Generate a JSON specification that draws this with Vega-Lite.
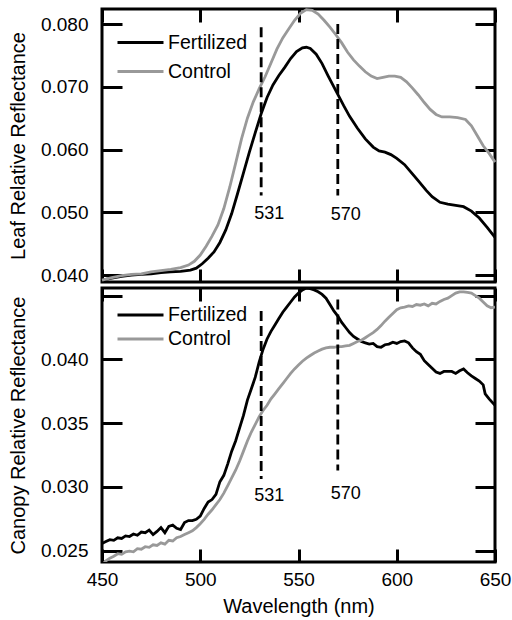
{
  "$schema": "https://vega.github.io/schema/vega-lite/v6.json",
  "padding": {"left": 6, "top": 2, "right": 2, "bottom": 0},
  "config": {
    "font": "Liberation Sans",
    "view": {"stroke": "#000000", "strokeWidth": 3},
    "axis": {"domain": false, "ticks": false, "grid": true, "gridColor": "#000000", "gridWidth": 3, "gridOpacity": 1, "labelFontSize": 19, "labelColor": "#000000", "labelFont": "Liberation Sans", "titleFont": "Liberation Sans", "titleFontSize": 20, "titleFontWeight": "normal", "titleColor": "#000000", "labelFlush": false, "labelOverlap": false},
    "legend": {"labelFont": "Liberation Sans"}
  },
  "datasets": {
    "leaf": [
      {"wl":450,"refl":0.0392,"series":"Fertilized"},{"wl":455,"refl":0.0395,"series":"Fertilized"},{"wl":460,"refl":0.0398,"series":"Fertilized"},{"wl":465,"refl":0.0400,"series":"Fertilized"},{"wl":470,"refl":0.0401,"series":"Fertilized"},{"wl":475,"refl":0.0402,"series":"Fertilized"},{"wl":480,"refl":0.0404,"series":"Fertilized"},{"wl":485,"refl":0.0405,"series":"Fertilized"},{"wl":490,"refl":0.0406,"series":"Fertilized"},{"wl":495,"refl":0.0408,"series":"Fertilized"},{"wl":498,"refl":0.0411,"series":"Fertilized"},{"wl":501,"refl":0.0418,"series":"Fertilized"},{"wl":504,"refl":0.0427,"series":"Fertilized"},{"wl":507,"refl":0.0437,"series":"Fertilized"},{"wl":510,"refl":0.0452,"series":"Fertilized"},{"wl":513,"refl":0.0472,"series":"Fertilized"},{"wl":516,"refl":0.0498,"series":"Fertilized"},{"wl":519,"refl":0.0530,"series":"Fertilized"},{"wl":522,"refl":0.0563,"series":"Fertilized"},{"wl":525,"refl":0.0596,"series":"Fertilized"},{"wl":528,"refl":0.0627,"series":"Fertilized"},{"wl":531,"refl":0.0657,"series":"Fertilized"},{"wl":534,"refl":0.0683,"series":"Fertilized"},{"wl":537,"refl":0.0703,"series":"Fertilized"},{"wl":540,"refl":0.0718,"series":"Fertilized"},{"wl":543,"refl":0.0731,"series":"Fertilized"},{"wl":546,"refl":0.0745,"series":"Fertilized"},{"wl":549,"refl":0.0756,"series":"Fertilized"},{"wl":552,"refl":0.0762,"series":"Fertilized"},{"wl":554,"refl":0.0763,"series":"Fertilized"},{"wl":556,"refl":0.0761,"series":"Fertilized"},{"wl":559,"refl":0.0752,"series":"Fertilized"},{"wl":562,"refl":0.0737,"series":"Fertilized"},{"wl":565,"refl":0.0718,"series":"Fertilized"},{"wl":568,"refl":0.0700,"series":"Fertilized"},{"wl":570,"refl":0.0688,"series":"Fertilized"},{"wl":573,"refl":0.0670,"series":"Fertilized"},{"wl":576,"refl":0.0653,"series":"Fertilized"},{"wl":580,"refl":0.0634,"series":"Fertilized"},{"wl":584,"refl":0.0617,"series":"Fertilized"},{"wl":588,"refl":0.0604,"series":"Fertilized"},{"wl":591,"refl":0.0598,"series":"Fertilized"},{"wl":594,"refl":0.0596,"series":"Fertilized"},{"wl":597,"refl":0.0592,"series":"Fertilized"},{"wl":600,"refl":0.0586,"series":"Fertilized"},{"wl":604,"refl":0.0576,"series":"Fertilized"},{"wl":607,"refl":0.0565,"series":"Fertilized"},{"wl":611,"refl":0.0550,"series":"Fertilized"},{"wl":615,"refl":0.0535,"series":"Fertilized"},{"wl":618,"refl":0.0525,"series":"Fertilized"},{"wl":622,"refl":0.0516,"series":"Fertilized"},{"wl":626,"refl":0.0513,"series":"Fertilized"},{"wl":630,"refl":0.0511,"series":"Fertilized"},{"wl":634,"refl":0.0509,"series":"Fertilized"},{"wl":638,"refl":0.0502,"series":"Fertilized"},{"wl":642,"refl":0.0491,"series":"Fertilized"},{"wl":646,"refl":0.0476,"series":"Fertilized"},{"wl":650,"refl":0.0460,"series":"Fertilized"},
      {"wl":450,"refl":0.0392,"series":"Control"},{"wl":455,"refl":0.0396,"series":"Control"},{"wl":460,"refl":0.0399,"series":"Control"},{"wl":465,"refl":0.0401,"series":"Control"},{"wl":470,"refl":0.0402,"series":"Control"},{"wl":475,"refl":0.0405,"series":"Control"},{"wl":480,"refl":0.0407,"series":"Control"},{"wl":485,"refl":0.0409,"series":"Control"},{"wl":490,"refl":0.0412,"series":"Control"},{"wl":494,"refl":0.0416,"series":"Control"},{"wl":497,"refl":0.0422,"series":"Control"},{"wl":500,"refl":0.0432,"series":"Control"},{"wl":503,"refl":0.0446,"series":"Control"},{"wl":506,"refl":0.0462,"series":"Control"},{"wl":509,"refl":0.0480,"series":"Control"},{"wl":512,"refl":0.0506,"series":"Control"},{"wl":515,"refl":0.0540,"series":"Control"},{"wl":518,"refl":0.0578,"series":"Control"},{"wl":521,"refl":0.0617,"series":"Control"},{"wl":524,"refl":0.0650,"series":"Control"},{"wl":527,"refl":0.0676,"series":"Control"},{"wl":530,"refl":0.0697,"series":"Control"},{"wl":533,"refl":0.0716,"series":"Control"},{"wl":536,"refl":0.0738,"series":"Control"},{"wl":539,"refl":0.0760,"series":"Control"},{"wl":542,"refl":0.0778,"series":"Control"},{"wl":545,"refl":0.0792,"series":"Control"},{"wl":548,"refl":0.0806,"series":"Control"},{"wl":551,"refl":0.0817,"series":"Control"},{"wl":554,"refl":0.0823,"series":"Control"},{"wl":557,"refl":0.0822,"series":"Control"},{"wl":560,"refl":0.0816,"series":"Control"},{"wl":563,"refl":0.0806,"series":"Control"},{"wl":566,"refl":0.0795,"series":"Control"},{"wl":569,"refl":0.0783,"series":"Control"},{"wl":572,"refl":0.0770,"series":"Control"},{"wl":575,"refl":0.0755,"series":"Control"},{"wl":578,"refl":0.0743,"series":"Control"},{"wl":581,"refl":0.0733,"series":"Control"},{"wl":584,"refl":0.0724,"series":"Control"},{"wl":587,"refl":0.0717,"series":"Control"},{"wl":590,"refl":0.0713,"series":"Control"},{"wl":593,"refl":0.0715,"series":"Control"},{"wl":596,"refl":0.0717,"series":"Control"},{"wl":599,"refl":0.0717,"series":"Control"},{"wl":602,"refl":0.0715,"series":"Control"},{"wl":605,"refl":0.0708,"series":"Control"},{"wl":608,"refl":0.0698,"series":"Control"},{"wl":611,"refl":0.0687,"series":"Control"},{"wl":614,"refl":0.0675,"series":"Control"},{"wl":617,"refl":0.0664,"series":"Control"},{"wl":620,"refl":0.0656,"series":"Control"},{"wl":623,"refl":0.0652,"series":"Control"},{"wl":627,"refl":0.0652,"series":"Control"},{"wl":631,"refl":0.0651,"series":"Control"},{"wl":635,"refl":0.0648,"series":"Control"},{"wl":638,"refl":0.0638,"series":"Control"},{"wl":641,"refl":0.0622,"series":"Control"},{"wl":644,"refl":0.0606,"series":"Control"},{"wl":647,"refl":0.0594,"series":"Control"},{"wl":650,"refl":0.0580,"series":"Control"}
    ],
    "canopy": [
      {"wl":450,"refl":0.02555,"series":"Fertilized"},{"wl":452,"refl":0.02570,"series":"Fertilized"},{"wl":454,"refl":0.02585,"series":"Fertilized"},{"wl":456,"refl":0.02580,"series":"Fertilized"},{"wl":458,"refl":0.02600,"series":"Fertilized"},{"wl":460,"refl":0.02595,"series":"Fertilized"},{"wl":462,"refl":0.02615,"series":"Fertilized"},{"wl":464,"refl":0.02610,"series":"Fertilized"},{"wl":466,"refl":0.02630,"series":"Fertilized"},{"wl":468,"refl":0.02620,"series":"Fertilized"},{"wl":470,"refl":0.02645,"series":"Fertilized"},{"wl":472,"refl":0.02640,"series":"Fertilized"},{"wl":474,"refl":0.02660,"series":"Fertilized"},{"wl":476,"refl":0.02625,"series":"Fertilized"},{"wl":478,"refl":0.02650,"series":"Fertilized"},{"wl":480,"refl":0.02680,"series":"Fertilized"},{"wl":482,"refl":0.02640,"series":"Fertilized"},{"wl":484,"refl":0.02690,"series":"Fertilized"},{"wl":486,"refl":0.02700,"series":"Fertilized"},{"wl":488,"refl":0.02675,"series":"Fertilized"},{"wl":490,"refl":0.02665,"series":"Fertilized"},{"wl":492,"refl":0.02720,"series":"Fertilized"},{"wl":494,"refl":0.02735,"series":"Fertilized"},{"wl":496,"refl":0.02735,"series":"Fertilized"},{"wl":498,"refl":0.02745,"series":"Fertilized"},{"wl":500,"refl":0.02770,"series":"Fertilized"},{"wl":502,"refl":0.02830,"series":"Fertilized"},{"wl":504,"refl":0.02880,"series":"Fertilized"},{"wl":506,"refl":0.02900,"series":"Fertilized"},{"wl":508,"refl":0.02940,"series":"Fertilized"},{"wl":510,"refl":0.03040,"series":"Fertilized"},{"wl":512,"refl":0.03090,"series":"Fertilized"},{"wl":514,"refl":0.03180,"series":"Fertilized"},{"wl":516,"refl":0.03280,"series":"Fertilized"},{"wl":518,"refl":0.03360,"series":"Fertilized"},{"wl":520,"refl":0.03460,"series":"Fertilized"},{"wl":522,"refl":0.03560,"series":"Fertilized"},{"wl":524,"refl":0.03680,"series":"Fertilized"},{"wl":526,"refl":0.03770,"series":"Fertilized"},{"wl":528,"refl":0.03860,"series":"Fertilized"},{"wl":530,"refl":0.03980,"series":"Fertilized"},{"wl":532,"refl":0.04080,"series":"Fertilized"},{"wl":534,"refl":0.04160,"series":"Fertilized"},{"wl":536,"refl":0.04220,"series":"Fertilized"},{"wl":538,"refl":0.04270,"series":"Fertilized"},{"wl":540,"refl":0.04320,"series":"Fertilized"},{"wl":542,"refl":0.04370,"series":"Fertilized"},{"wl":544,"refl":0.04410,"series":"Fertilized"},{"wl":546,"refl":0.04450,"series":"Fertilized"},{"wl":548,"refl":0.04490,"series":"Fertilized"},{"wl":550,"refl":0.04520,"series":"Fertilized"},{"wl":552,"refl":0.04545,"series":"Fertilized"},{"wl":554,"refl":0.04560,"series":"Fertilized"},{"wl":556,"refl":0.04555,"series":"Fertilized"},{"wl":558,"refl":0.04545,"series":"Fertilized"},{"wl":560,"refl":0.04530,"series":"Fertilized"},{"wl":562,"refl":0.04510,"series":"Fertilized"},{"wl":564,"refl":0.04480,"series":"Fertilized"},{"wl":566,"refl":0.04430,"series":"Fertilized"},{"wl":568,"refl":0.04380,"series":"Fertilized"},{"wl":570,"refl":0.04340,"series":"Fertilized"},{"wl":572,"refl":0.04290,"series":"Fertilized"},{"wl":574,"refl":0.04250,"series":"Fertilized"},{"wl":576,"refl":0.04210,"series":"Fertilized"},{"wl":578,"refl":0.04180,"series":"Fertilized"},{"wl":580,"refl":0.04160,"series":"Fertilized"},{"wl":582,"refl":0.04140,"series":"Fertilized"},{"wl":584,"refl":0.04130,"series":"Fertilized"},{"wl":586,"refl":0.04120,"series":"Fertilized"},{"wl":588,"refl":0.04125,"series":"Fertilized"},{"wl":590,"refl":0.04100,"series":"Fertilized"},{"wl":592,"refl":0.04095,"series":"Fertilized"},{"wl":594,"refl":0.04115,"series":"Fertilized"},{"wl":596,"refl":0.04120,"series":"Fertilized"},{"wl":598,"refl":0.04135,"series":"Fertilized"},{"wl":600,"refl":0.04125,"series":"Fertilized"},{"wl":602,"refl":0.04140,"series":"Fertilized"},{"wl":604,"refl":0.04145,"series":"Fertilized"},{"wl":606,"refl":0.04130,"series":"Fertilized"},{"wl":608,"refl":0.04090,"series":"Fertilized"},{"wl":610,"refl":0.04060,"series":"Fertilized"},{"wl":612,"refl":0.04040,"series":"Fertilized"},{"wl":614,"refl":0.03990,"series":"Fertilized"},{"wl":616,"refl":0.03960,"series":"Fertilized"},{"wl":618,"refl":0.03930,"series":"Fertilized"},{"wl":620,"refl":0.03900,"series":"Fertilized"},{"wl":622,"refl":0.03890,"series":"Fertilized"},{"wl":624,"refl":0.03905,"series":"Fertilized"},{"wl":626,"refl":0.03905,"series":"Fertilized"},{"wl":628,"refl":0.03905,"series":"Fertilized"},{"wl":630,"refl":0.03890,"series":"Fertilized"},{"wl":632,"refl":0.03910,"series":"Fertilized"},{"wl":634,"refl":0.03925,"series":"Fertilized"},{"wl":636,"refl":0.03895,"series":"Fertilized"},{"wl":638,"refl":0.03870,"series":"Fertilized"},{"wl":640,"refl":0.03850,"series":"Fertilized"},{"wl":642,"refl":0.03830,"series":"Fertilized"},{"wl":644,"refl":0.03800,"series":"Fertilized"},{"wl":645,"refl":0.03730,"series":"Fertilized"},{"wl":647,"refl":0.03690,"series":"Fertilized"},{"wl":650,"refl":0.03640,"series":"Fertilized"},
      {"wl":450,"refl":0.02385,"series":"Control"},{"wl":452,"refl":0.02420,"series":"Control"},{"wl":454,"refl":0.02440,"series":"Control"},{"wl":456,"refl":0.02455,"series":"Control"},{"wl":458,"refl":0.02475,"series":"Control"},{"wl":460,"refl":0.02470,"series":"Control"},{"wl":462,"refl":0.02490,"series":"Control"},{"wl":464,"refl":0.02495,"series":"Control"},{"wl":466,"refl":0.02490,"series":"Control"},{"wl":468,"refl":0.02515,"series":"Control"},{"wl":470,"refl":0.02510,"series":"Control"},{"wl":472,"refl":0.02530,"series":"Control"},{"wl":474,"refl":0.02525,"series":"Control"},{"wl":476,"refl":0.02545,"series":"Control"},{"wl":478,"refl":0.02540,"series":"Control"},{"wl":480,"refl":0.02560,"series":"Control"},{"wl":482,"refl":0.02550,"series":"Control"},{"wl":484,"refl":0.02580,"series":"Control"},{"wl":486,"refl":0.02575,"series":"Control"},{"wl":488,"refl":0.02600,"series":"Control"},{"wl":490,"refl":0.02610,"series":"Control"},{"wl":492,"refl":0.02625,"series":"Control"},{"wl":494,"refl":0.02640,"series":"Control"},{"wl":496,"refl":0.02655,"series":"Control"},{"wl":498,"refl":0.02680,"series":"Control"},{"wl":500,"refl":0.02710,"series":"Control"},{"wl":502,"refl":0.02745,"series":"Control"},{"wl":504,"refl":0.02785,"series":"Control"},{"wl":506,"refl":0.02820,"series":"Control"},{"wl":508,"refl":0.02860,"series":"Control"},{"wl":510,"refl":0.02900,"series":"Control"},{"wl":512,"refl":0.02950,"series":"Control"},{"wl":514,"refl":0.03010,"series":"Control"},{"wl":516,"refl":0.03070,"series":"Control"},{"wl":518,"refl":0.03130,"series":"Control"},{"wl":520,"refl":0.03200,"series":"Control"},{"wl":522,"refl":0.03280,"series":"Control"},{"wl":524,"refl":0.03360,"series":"Control"},{"wl":526,"refl":0.03430,"series":"Control"},{"wl":528,"refl":0.03490,"series":"Control"},{"wl":530,"refl":0.03550,"series":"Control"},{"wl":532,"refl":0.03600,"series":"Control"},{"wl":534,"refl":0.03640,"series":"Control"},{"wl":536,"refl":0.03690,"series":"Control"},{"wl":538,"refl":0.03730,"series":"Control"},{"wl":540,"refl":0.03770,"series":"Control"},{"wl":542,"refl":0.03810,"series":"Control"},{"wl":544,"refl":0.03850,"series":"Control"},{"wl":546,"refl":0.03890,"series":"Control"},{"wl":548,"refl":0.03925,"series":"Control"},{"wl":550,"refl":0.03955,"series":"Control"},{"wl":552,"refl":0.03985,"series":"Control"},{"wl":554,"refl":0.04010,"series":"Control"},{"wl":556,"refl":0.04030,"series":"Control"},{"wl":558,"refl":0.04050,"series":"Control"},{"wl":560,"refl":0.04065,"series":"Control"},{"wl":562,"refl":0.04080,"series":"Control"},{"wl":564,"refl":0.04090,"series":"Control"},{"wl":566,"refl":0.04095,"series":"Control"},{"wl":568,"refl":0.04095,"series":"Control"},{"wl":570,"refl":0.04100,"series":"Control"},{"wl":572,"refl":0.04100,"series":"Control"},{"wl":574,"refl":0.04105,"series":"Control"},{"wl":576,"refl":0.04110,"series":"Control"},{"wl":578,"refl":0.04125,"series":"Control"},{"wl":580,"refl":0.04140,"series":"Control"},{"wl":582,"refl":0.04150,"series":"Control"},{"wl":584,"refl":0.04170,"series":"Control"},{"wl":586,"refl":0.04190,"series":"Control"},{"wl":588,"refl":0.04210,"series":"Control"},{"wl":590,"refl":0.04235,"series":"Control"},{"wl":592,"refl":0.04265,"series":"Control"},{"wl":594,"refl":0.04300,"series":"Control"},{"wl":596,"refl":0.04330,"series":"Control"},{"wl":598,"refl":0.04360,"series":"Control"},{"wl":600,"refl":0.04390,"series":"Control"},{"wl":602,"refl":0.04405,"series":"Control"},{"wl":604,"refl":0.04410,"series":"Control"},{"wl":606,"refl":0.04420,"series":"Control"},{"wl":608,"refl":0.04415,"series":"Control"},{"wl":610,"refl":0.04430,"series":"Control"},{"wl":612,"refl":0.04425,"series":"Control"},{"wl":614,"refl":0.04435,"series":"Control"},{"wl":616,"refl":0.04420,"series":"Control"},{"wl":618,"refl":0.04440,"series":"Control"},{"wl":620,"refl":0.04435,"series":"Control"},{"wl":622,"refl":0.04455,"series":"Control"},{"wl":624,"refl":0.04470,"series":"Control"},{"wl":626,"refl":0.04480,"series":"Control"},{"wl":628,"refl":0.04500,"series":"Control"},{"wl":630,"refl":0.04520,"series":"Control"},{"wl":632,"refl":0.04530,"series":"Control"},{"wl":634,"refl":0.04530,"series":"Control"},{"wl":636,"refl":0.04525,"series":"Control"},{"wl":638,"refl":0.04520,"series":"Control"},{"wl":640,"refl":0.04500,"series":"Control"},{"wl":642,"refl":0.04480,"series":"Control"},{"wl":644,"refl":0.04450,"series":"Control"},{"wl":646,"refl":0.04420,"series":"Control"},{"wl":648,"refl":0.04405,"series":"Control"},{"wl":650,"refl":0.04410,"series":"Control"}
    ],
    "leafMarks": [
      {"wl":531,"top":0.0795,"bot":0.0527,"label":"531","ly":0.0497},
      {"wl":570,"top":0.0800,"bot":0.0527,"label":"570","ly":0.0496}
    ],
    "canopyMarks": [
      {"wl":531,"top":0.04379,"bot":0.03061,"label":"531","ly":0.0293},
      {"wl":570,"top":0.04469,"bot":0.03127,"label":"570","ly":0.0294}
    ]
  },
  "spacing": -7,
  "resolve": {"scale": {"color": "independent"}, "legend": {"color": "independent"}},
  "vconcat": [
    {
      "width": 393,
      "height": 273,
      "resolve": {"axis": {"x": "independent", "y": "independent"}},
      "layer": [
        {
          "data": {"name": "leaf"},
          "mark": {"type": "line", "strokeWidth": 2.8},
          "encoding": {
            "x": {"field": "wl", "type": "quantitative", "scale": {"domain": [450, 650], "nice": false, "zero": false},
              "axis": {"orient": "bottom", "values": [450, 500, 550, 600, 650], "gridDash": [13, 247, 13], "labels": false, "title": null, "minExtent": 0, "maxExtent": 0}},
            "y": {"field": "refl", "type": "quantitative", "scale": {"domain": [0.0389, 0.0824], "nice": false, "zero": false},
              "axis": {"orient": "left", "values": [0.04, 0.05, 0.06, 0.07, 0.08], "format": ".3f", "gridDash": [20, 353, 20], "labelPadding": 14, "title": "Leaf Relative Reflectance", "titlePadding": 12}},
            "color": {"field": "series", "type": "nominal", "scale": {"domain": ["Fertilized", "Control"], "range": ["#000000", "#999999"]},
              "legend": {"title": null, "orient": "none", "legendX": 25.5, "legendY": 20.5, "symbolType": "M-2,0H2", "symbolSize": 529, "symbolStrokeWidth": 3, "labelFontSize": 19.5, "labelColor": "#000000", "rowPadding": 6, "labelOffset": 14.5}}
          }
        },
        {
          "data": {"name": "leafMarks"},
          "mark": {"type": "rule", "strokeDash": [10, 5], "strokeWidth": 2.8, "color": "#000000"},
          "encoding": {
            "x": {"field": "wl", "type": "quantitative", "scale": {"domain": [450, 650], "nice": false, "zero": false},
              "axis": {"orient": "top", "values": [460,470,480,490,510,520,530,540,560,570,580,590,610,620,630,640], "gridDash": [7, 259, 7], "labels": false, "title": null, "minExtent": 0, "maxExtent": 0}},
            "y": {"field": "top", "type": "quantitative", "scale": {"domain": [0.0389, 0.0824], "nice": false, "zero": false},
              "axis": {"orient": "right", "values": [0.041667,0.043333,0.045,0.046667,0.048333,0.051667,0.053333,0.055,0.056667,0.058333,0.061667,0.063333,0.065,0.066667,0.068333,0.071667,0.073333,0.075,0.076667,0.078333,0.081667], "gridDash": [10, 373, 10], "labels": false, "title": null, "minExtent": 0, "maxExtent": 0}},
            "y2": {"field": "bot"}
          }
        },
        {
          "data": {"name": "leafMarks"},
          "mark": {"type": "text", "align": "left", "baseline": "middle", "dx": -7, "fontSize": 18, "color": "#000000"},
          "encoding": {
            "x": {"field": "wl", "type": "quantitative", "axis": null},
            "y": {"field": "ly", "type": "quantitative", "axis": null},
            "text": {"field": "label"}
          }
        }
      ]
    },
    {
      "width": 393,
      "height": 274,
      "resolve": {"axis": {"x": "independent", "y": "independent"}},
      "layer": [
        {
          "data": {"name": "canopy"},
          "mark": {"type": "line", "strokeWidth": 2.8, "clip": true},
          "encoding": {
            "x": {"field": "wl", "type": "quantitative", "scale": {"domain": [450, 650], "nice": false, "zero": false},
              "axis": {"orient": "bottom", "values": [450, 500, 550, 600, 650], "gridDash": [13, 248, 13], "labelPadding": 8, "title": "Wavelength (nm)", "titlePadding": 7}},
            "y": {"field": "refl", "type": "quantitative", "scale": {"domain": [0.0241, 0.0456], "nice": false, "zero": false},
              "axis": {"orient": "left", "values": [0.025, 0.03, 0.035, 0.04, 0.045], "labelExpr": "datum.value > 0.0449 ? '' : format(datum.value, '.3f')", "gridDash": [20, 353, 20], "labelPadding": 14, "title": "Canopy Relative Reflectance", "titlePadding": 12}},
            "color": {"field": "series", "type": "nominal", "scale": {"domain": ["Fertilized", "Control"], "range": ["#000000", "#999999"]},
              "legend": {"title": null, "orient": "none", "legendX": 25.5, "legendY": 14, "symbolType": "M-2,0H2", "symbolSize": 529, "symbolStrokeWidth": 3, "labelFontSize": 19.5, "labelColor": "#000000", "rowPadding": 1, "labelOffset": 14.5}}
          }
        },
        {
          "data": {"name": "canopyMarks"},
          "mark": {"type": "rule", "strokeDash": [10, 5], "strokeWidth": 2.8, "color": "#000000"},
          "encoding": {
            "x": {"field": "wl", "type": "quantitative", "scale": {"domain": [450, 650], "nice": false, "zero": false},
              "axis": {"orient": "top", "values": [460,470,480,490,510,520,530,540,560,570,580,590,610,620,630,640], "gridDash": [7, 260, 7], "labels": false, "title": null, "minExtent": 0, "maxExtent": 0}},
            "y": {"field": "top", "type": "quantitative", "scale": {"domain": [0.0241, 0.0456], "nice": false, "zero": false},
              "axis": {"orient": "right", "values": [0.026,0.027,0.028,0.029,0.031,0.032,0.033,0.034,0.036,0.037,0.038,0.039,0.041,0.042,0.043,0.044], "gridDash": [10, 373, 10], "labels": false, "title": null, "minExtent": 0, "maxExtent": 0}},
            "y2": {"field": "bot"}
          }
        },
        {
          "data": {"name": "canopyMarks"},
          "mark": {"type": "text", "align": "left", "baseline": "middle", "dx": -7, "fontSize": 18, "color": "#000000"},
          "encoding": {
            "x": {"field": "wl", "type": "quantitative", "axis": null},
            "y": {"field": "ly", "type": "quantitative", "axis": null},
            "text": {"field": "label"}
          }
        }
      ]
    }
  ]
}
